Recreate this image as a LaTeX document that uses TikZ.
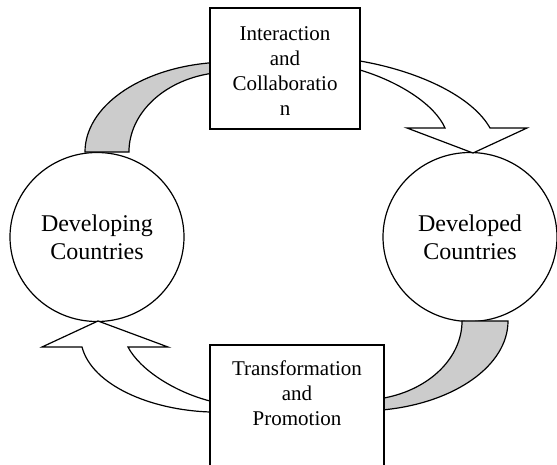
\documentclass[tikz,border=0pt]{standalone}
\usepackage{fontspec}
\setmainfont{Liberation Serif}
\usetikzlibrary{shapes.geometric}
\begin{document}
\begin{tikzpicture}[x=1pt,y=-1pt,line width=1.2pt,
  country/.style={draw,ellipse,fill=white,minimum width=174pt,minimum height=169pt,inner sep=0pt,align=center,font=\fontsize{24}{28}\selectfont},
  box/.style={draw,rectangle,fill=white,inner sep=0pt,align=center,font=\fontsize{21}{25}\selectfont},
  boxtext/.style={inner sep=0pt,align=center,font=\fontsize{21}{25}\selectfont},
  band/.style={draw,fill=black!20,line join=miter},
  hollow/.style={draw,fill=white,line join=miter}]
\useasboundingbox (0,0) rectangle (557,464);
\clip (0,0) rectangle (557,464);
% countries
\node[country] (dev) at (97,237) {Developing\\Countries};
\node[country] (dvd) at (470,237) {Developed\\Countries};
% top-left gray band
\draw[band] (85,152) arc[start angle=180,end angle=262,x radius=145,y radius=90]
  -- (210,73.6) arc[start angle=258.6,end angle=180,x radius=101,y radius=80] -- cycle;
% top-right hollow arrow
\draw[hollow] (360,61) .. controls (418,71) and (472,96) .. (490,128) -- (527,128) -- (473,153)
  -- (407,128) -- (445,128) .. controls (435,105) and (400,82) .. (360,70) -- cycle;
% bottom-right gray band
\draw[band] (508,321) arc[start angle=0,end angle=80.7,x radius=148,y radius=90]
  -- (384,398) arc[start angle=76.4,end angle=0,x radius=102,y radius=79.2] -- cycle;
% bottom-left hollow arrow
\draw[hollow] (210,412) .. controls (150,410) and (92,385) .. (82,347) -- (42,347) -- (98,321)
  -- (168,347) -- (128,347) .. controls (140,370) and (175,392) .. (210,401) -- cycle;
% boxes
\node[box,minimum width=150pt,minimum height=121pt] (ic) at (285,68.5) {};
\node[boxtext] (ict) at (285,71) {Interaction\\and\\Collaboratio\\n};
\node[box,minimum width=174pt,minimum height=140pt] (tp) at (297,415) {};
\node[boxtext] (tpt) at (297,393) {Transformation\\and\\Promotion};
\end{tikzpicture}
\end{document}
